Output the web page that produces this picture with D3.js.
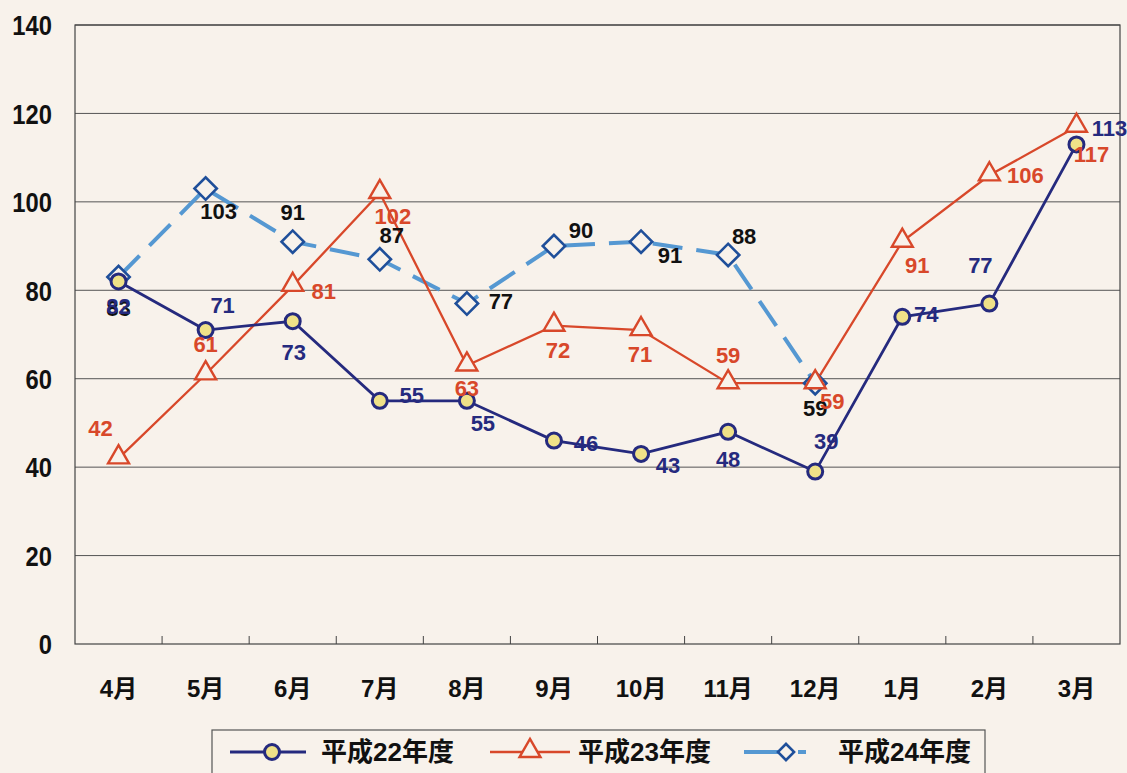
<!DOCTYPE html>
<html>
<head>
<meta charset="utf-8">
<script src="https://cdn.jsdelivr.net/npm/d3@7"></script>
<style>
  html, body { margin: 0; padding: 0; background: #f8f2eb; }
  svg text { font-family: "Liberation Sans", Arial, "Noto Sans CJK JP", sans-serif; font-weight: bold; }
</style>
</head>
<body>
<svg id="chart" width="1127" height="773"></svg>
<script>
// months (fiscal year order)
var months = ["4月", "5月", "6月", "7月", "8月", "9月", "10月", "11月", "12月", "1月", "2月", "3月"];
var yTicks = [0, 20, 40, 60, 80, 100, 120, 140];

var h22 = [82, 71, 73, 55, 55, 46, 43, 48, 39, 74, 77, 113];
var h23 = [42, 61, 81, 102, 63, 72, 71, 59, 59, 91, 106, 117];
var h24 = [83, 103, 91, 87, 77, 90, 91, 88, 59, null, null, null];

var seriesNames = ["平成22年度", "平成23年度", "平成24年度"];

// label offsets from each point [dx, dy]
var off22 = [[0, 25], [17, -25], [1, 31], [32, -6], [16, 22], [32, 2], [27, 11], [0, 27], [11, -30], [24, -3], [-9, -38], [33, -16]];
var off23 = [[-18, -30], [0, -30], [31, 5], [13, 23], [0, 23], [4, 24], [-1, 24], [0, -28], [17, 18], [15, 23], [36, 0], [15, 27]];
var off24 = [[0, 31], [13, 22], [0, -30], [12, -24], [34, -2], [27, -16], [29, 13], [16, -19], [0, 25]];

var svg = d3.select("#chart");
var margin = {left: 75, right: 7, top: 25, bottom: 129};
var W = +svg.attr("width"), H = +svg.attr("height");
var plotW = W - margin.left - margin.right;
var plotH = H - margin.top - margin.bottom;

var g = svg.append("g").attr("transform", "translate(" + margin.left + "," + margin.top + ")");

var x = d3.scaleBand().domain(months).range([0, plotW]);
var y = d3.scaleLinear().domain([0, 140]).range([plotH, 0]);
var cx = function(i) { return x(months[i]) + x.bandwidth() / 2; };

// gridlines
g.selectAll("line.grid").data(yTicks.slice(1)).enter().append("line")
    .attr("x1", 0).attr("x2", plotW)
    .attr("y1", function(d) { return y(d); }).attr("y2", function(d) { return y(d); })
    .attr("stroke", "#555").attr("stroke-width", 1);

// frame
g.append("rect").attr("x", 0).attr("y", 0).attr("width", plotW).attr("height", plotH)
    .attr("fill", "none").attr("stroke", "#444").attr("stroke-width", 1.2);

// y axis labels (slightly condensed)
var yAxis = d3.axisLeft(y).tickValues(yTicks).tickSize(0);
var ya = g.append("g").call(yAxis);
ya.select(".domain").remove();
ya.selectAll("text").attr("font-size", 27).attr("fill", "#111").attr("dy", "0.36em")
    .attr("x", 0).attr("transform", "translate(-23,0) scale(0.88,1)");

// x axis
var xAxis = d3.axisBottom(x).tickSize(0).tickPadding(36);
var xa = g.append("g").attr("transform", "translate(0," + plotH + ")").call(xAxis);
xa.select(".domain").remove();
xa.selectAll("text").attr("font-size", 24).attr("fill", "#111");
// small tick marks between categories
g.selectAll("line.xt").data(months.slice(1)).enter().append("line")
    .attr("x1", function(d) { return x(d); }).attr("x2", function(d) { return x(d); })
    .attr("y1", plotH).attr("y2", plotH - 8)
    .attr("stroke", "#444").attr("stroke-width", 1);

var line = d3.line()
    .defined(function(d) { return d != null; })
    .x(function(d, i) { return cx(i); })
    .y(function(d) { return y(d); });

var navy = "#252a7e", red = "#d8482a", light = "#5598d2", diamondC = "#1f4f9a";

// H24 dashed line
g.append("path").datum(h24).attr("d", line)
    .attr("fill", "none").attr("stroke", light).attr("stroke-width", 4)
    .attr("stroke-dasharray", "30,14");
// H23
g.append("path").datum(h23).attr("d", line)
    .attr("fill", "none").attr("stroke", red).attr("stroke-width", 2.3);
// H22
g.append("path").datum(h22).attr("d", line)
    .attr("fill", "none").attr("stroke", navy).attr("stroke-width", 2.8);

var tri = d3.symbol().type(d3.symbolTriangle).size(190);
var dia = d3.symbol().type(d3.symbolSquare).size(250);

// H24 markers
g.selectAll("path.d24").data(h24.filter(function(d) { return d != null; })).enter().append("path")
    .attr("d", dia)
    .attr("transform", function(d, i) { return "translate(" + cx(i) + "," + y(d) + ") rotate(45)"; })
    .attr("fill", "#f8f2eb").attr("stroke", diamondC).attr("stroke-width", 2.6);
// H23 markers
g.selectAll("path.t23").data(h23).enter().append("path")
    .attr("d", tri)
    .attr("transform", function(d, i) { return "translate(" + cx(i) + "," + (y(d) - 1) + ")"; })
    .attr("fill", "#f8f2eb").attr("stroke", red).attr("stroke-width", 2.4);
// H22 markers
g.selectAll("circle.c22").data(h22).enter().append("circle")
    .attr("cx", function(d, i) { return cx(i); }).attr("cy", function(d) { return y(d); })
    .attr("r", 7.5)
    .attr("fill", "#efe188").attr("stroke", navy).attr("stroke-width", 3);

// data labels
function labels(data, offs, color) {
    g.selectAll(null).data(data).enter()
        .filter(function(d) { return d != null; })
        .append("text")
        .attr("x", function(d, i) { return cx(i) + offs[i][0]; })
        .attr("y", function(d, i) { return y(d) + offs[i][1]; })
        .attr("dy", "0.36em").attr("text-anchor", "middle")
        .attr("font-size", 22).attr("fill", color)
        .text(function(d) { return d; });
}
labels(h24, off24, "#111");
labels(h23, off23, red);
labels(h22, off22, navy);

// legend
var leg = svg.append("g");
leg.append("rect").attr("x", 212).attr("y", 730).attr("width", 773).attr("height", 60)
    .attr("fill", "#f8f2eb").attr("stroke", "#555").attr("stroke-width", 1.2);
var ly = 752;
// item 1
leg.append("line").attr("x1", 230).attr("x2", 306).attr("y1", ly).attr("y2", ly)
    .attr("stroke", navy).attr("stroke-width", 2.8);
leg.append("circle").attr("cx", 272).attr("cy", ly).attr("r", 7.5)
    .attr("fill", "#efe188").attr("stroke", navy).attr("stroke-width", 3);
// item 2
leg.append("line").attr("x1", 490).attr("x2", 570).attr("y1", ly).attr("y2", ly)
    .attr("stroke", red).attr("stroke-width", 2.3);
leg.append("path").attr("d", tri).attr("transform", "translate(530," + (ly - 1) + ")")
    .attr("fill", "#f8f2eb").attr("stroke", red).attr("stroke-width", 2.4);
// item 3
leg.append("line").attr("x1", 744).attr("x2", 778).attr("y1", ly).attr("y2", ly)
    .attr("stroke", light).attr("stroke-width", 4);
leg.append("line").attr("x1", 798).attr("x2", 806).attr("y1", ly).attr("y2", ly)
    .attr("stroke", light).attr("stroke-width", 4);
leg.append("path").attr("d", d3.symbol().type(d3.symbolSquare).size(130))
    .attr("transform", "translate(786," + ly + ") rotate(45)")
    .attr("fill", "#f8f2eb").attr("stroke", diamondC).attr("stroke-width", 2.6);
var textX = [321, 578, 838];
leg.selectAll("text.lg").data(seriesNames).enter().append("text")
    .attr("x", function(d, i) { return textX[i]; }).attr("y", ly).attr("dy", "0.36em")
    .attr("font-size", 26).attr("fill", "#111").text(function(d) { return d; });
</script>
</body>
</html>
